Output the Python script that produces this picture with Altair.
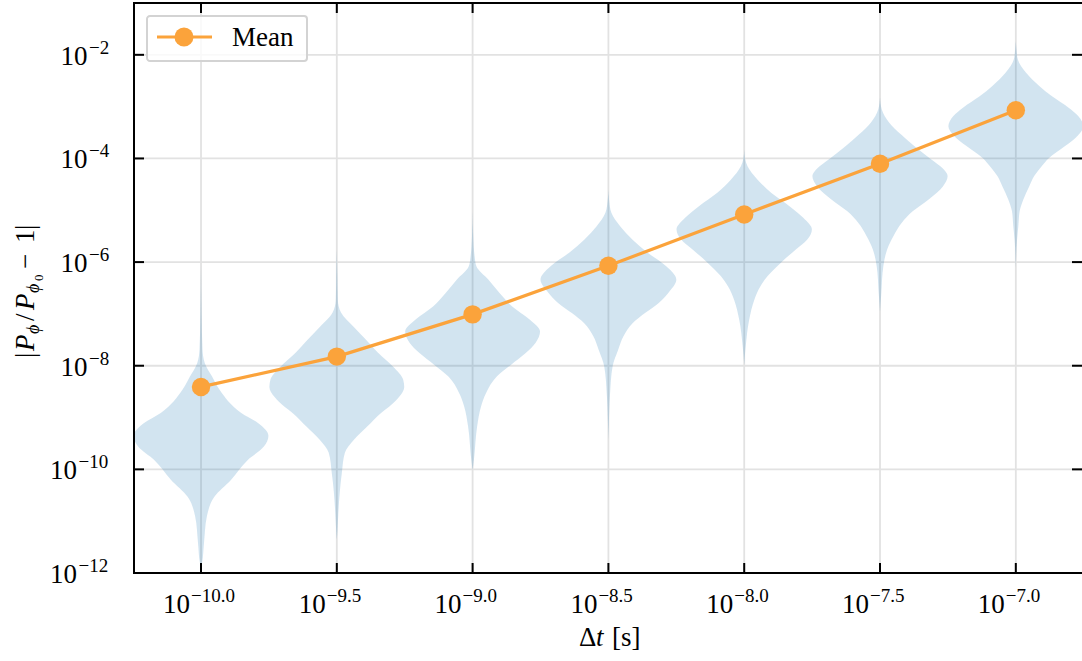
import altair as alt
import pandas as pd

# Time steps as log10(Δt / s) and the exponent text printed under each one
log_dt = [-10.0, -9.5, -9.0, -8.5, -8.0, -7.5, -7.0]
dt_exponent_text = ["−10.0", "−9.5", "−9.0", "−8.5", "−8.0", "−7.5", "−7.0"]

# Mean relative error |P_phi / P_phi0 - 1| for each time step
mean_error = [3.9e-9, 1.5e-8, 9.8e-8, 8.5e-7, 8.3e-6, 7.9e-5, 8.5e-4]

# Error decades that carry a tick and a grid line
err_decades = [-12, -10, -8, -6, -4, -2]

# Violin outlines: log10 error levels (top to bottom) and the density at each
# level, relative to the widest point of that violin
lev_a = [-6.05, -7.0, -7.69, -7.95, -8.21, -8.46, -8.91, -9.11, -9.35, -9.56, -9.82,
         -10.20, -10.53, -10.91, -11.42, -11.81, -11.87]
den_a = [0, 0.009, 0.022, 0.056, 0.163, 0.271, 0.593, 0.844, 0.993, 0.926, 0.689,
         0.444, 0.197, 0.086, 0.044, 0.015, 0]

lev_b = [-5.76, -6.30, -6.73, -6.98, -7.25, -7.50, -7.75, -8.02, -8.27, -8.41, -8.60,
         -8.79, -8.91, -9.18, -9.43, -9.68, -10.07, -10.43, -10.85, -11.17, -11.36]
den_b = [0, 0.009, 0.015, 0.064, 0.247, 0.430, 0.607, 0.830, 0.978, 0.993, 0.919,
         0.770, 0.652, 0.444, 0.252, 0.119, 0.074, 0.044, 0.022, 0.010, 0]

lev_c = [-5.02, -5.50, -5.89, -6.08, -6.34, -6.60, -6.85, -7.11, -7.34, -7.56, -7.76,
         -7.98, -8.21, -8.53, -8.79, -9.17, -9.82, -10.01]
den_c = [0, 0.009, 0.030, 0.056, 0.234, 0.400, 0.578, 0.840, 0.993, 0.926, 0.778,
         0.567, 0.356, 0.197, 0.123, 0.067, 0.019, 0]

lev_d = [-4.60, -4.80, -5.05, -5.31, -5.57, -5.82, -6.08, -6.34, -6.56, -6.79, -6.98,
         -7.18, -7.43, -7.69, -8.01, -8.59, -9.00, -9.43]
den_d = [0, 0.010, 0.044, 0.173, 0.356, 0.578, 0.852, 1.0, 0.904, 0.741, 0.544,
         0.356, 0.222, 0.144, 0.062, 0.022, 0.009, 0]

lev_e = [-3.83, -4.00, -4.15, -4.41, -4.66, -4.92, -5.15, -5.37, -5.57, -5.76, -6.02,
         -6.27, -6.47, -6.73, -7.11, -7.63, -7.80, -7.98]
den_e = [0, 0.012, 0.049, 0.197, 0.396, 0.667, 0.874, 0.997, 0.926, 0.756, 0.533,
         0.345, 0.237, 0.148, 0.074, 0.022, 0.010, 0]

lev_f = [-2.82, -3.05, -3.31, -3.54, -3.76, -4.02, -4.18, -4.34, -4.54, -4.79, -5.02,
         -5.24, -5.50, -5.76, -6.08, -6.60, -6.96]
den_f = [0, 0.025, 0.136, 0.311, 0.504, 0.756, 0.914, 0.996, 0.926, 0.716, 0.481,
         0.321, 0.197, 0.104, 0.049, 0.019, 0]

lev_g = [-1.74, -1.90, -2.09, -2.34, -2.60, -2.80, -3.02, -3.18, -3.38, -3.57, -3.76,
         -3.99, -4.15, -4.34, -4.54, -4.79, -5.02, -5.31, -5.57, -6.11]
den_g = [0, 0.010, 0.030, 0.148, 0.345, 0.533, 0.778, 0.919, 0.993, 0.904, 0.726,
         0.489, 0.381, 0.271, 0.197, 0.111, 0.056, 0.037, 0.018, 0]

violin_levels = [lev_a, lev_b, lev_c, lev_d, lev_e, lev_f, lev_g]
violin_density = [den_a, den_b, den_c, den_d, den_e, den_f, den_g]

# ---------------------------------------------------------------- styling
W, H = 948, 570
FONT = "Liberation Serif"
ORANGE = "#fba33b"
BLUE = "#1f77b4"
GRID = "#e2e2e2"
VIOLIN_HALF = 0.25          # half of the violin width, in decades of Δt
LABEL = 27
SUP = 19

xs = alt.Scale(domain=[-10.2467, -6.7563], nice=False, zero=False)
ys = alt.Scale(type="log", domain=[1e-12, 1e-1], nice=False)

# ---------------------------------------------------------------- tables
vrows = []
for x0, levs, dens in zip(log_dt, violin_levels, violin_density):
    for e, d in zip(levs, dens):
        w = VIOLIN_HALF * d
        vrows.append({"g": x0, "err": 10.0 ** e, "lo": x0 - w, "hi": x0 + w})
vdf = pd.DataFrame(vrows)

mdf = pd.DataFrame({"dt": log_dt, "err": mean_error})
xt = pd.DataFrame({"pos": log_dt, "lab": dt_exponent_text})

ylab = []
for e in err_decades:
    txt = "−" + str(abs(e))
    nd = len(str(abs(e)))
    right_of_ten = -17 - (19 + 10.5 * nd)
    ylab.append({"val": 10.0 ** e, "lab": txt, "px10": right_of_ten,
                 "pxe": right_of_ten + 1.5})
yt = pd.DataFrame(ylab)
one = pd.DataFrame({"k": [0]})

X = lambda f: alt.X(f, scale=xs, axis=None)
Y = lambda f: alt.Y(f, scale=ys, axis=None)

# ---------------------------------------------------------------- layers
grid_x = alt.Chart(xt).mark_rule(color=GRID, strokeWidth=1.8).encode(x=X("pos:Q"))
grid_y = alt.Chart(yt).mark_rule(color=GRID, strokeWidth=1.8).encode(y=Y("val:Q"))

violins = alt.Chart(vdf).mark_area(
    orient="horizontal", interpolate="monotone", color=BLUE, opacity=0.2, clip=True
).encode(y=Y("err:Q"), x=X("lo:Q"), x2="hi:Q", detail="g:N")

mean_line = alt.Chart(mdf).mark_line(color=ORANGE, strokeWidth=3.2).encode(
    x=X("dt:Q"), y=Y("err:Q"))
mean_pts = alt.Chart(mdf).mark_circle(color=ORANGE, opacity=1, size=340).encode(
    x=X("dt:Q"), y=Y("err:Q"))

# spines (left, top, bottom)
spine_kw = dict(color="black", strokeWidth=2, strokeCap="square")
spine_l = alt.Chart(one).mark_rule(**spine_kw).encode(
    x=alt.value(0), y=alt.value(0), y2=alt.value(H))
spine_t = alt.Chart(one).mark_rule(**spine_kw).encode(
    y=alt.value(0), x=alt.value(0), x2=alt.value(W))
spine_b = alt.Chart(one).mark_rule(**spine_kw).encode(
    y=alt.value(H), x=alt.value(0), x2=alt.value(W))

# inward ticks on all four sides
tick_kw = dict(color="black", strokeWidth=2)
tk_b = alt.Chart(xt).mark_rule(**tick_kw).encode(x=X("pos:Q"), y=alt.value(H), y2=alt.value(H - 10))
tk_t = alt.Chart(xt).mark_rule(**tick_kw).encode(x=X("pos:Q"), y=alt.value(0), y2=alt.value(10))
tk_l = alt.Chart(yt).mark_rule(**tick_kw).encode(y=Y("val:Q"), x=alt.value(0), x2=alt.value(10))
tk_r = alt.Chart(yt).mark_rule(**tick_kw).encode(y=Y("val:Q"), x=alt.value(W), x2=alt.value(W - 10))

# tick labels 10^{exponent}
xl_ten = alt.Chart(xt).mark_text(font=FONT, fontSize=LABEL, align="right",
                                 baseline="alphabetic", dx=-11).encode(
    x=X("pos:Q"), y=alt.value(610), text=alt.value("10"))
xl_exp = alt.Chart(xt).mark_text(font=FONT, fontSize=SUP, align="left",
                                 baseline="alphabetic", dx=-10).encode(
    x=X("pos:Q"), y=alt.value(599), text="lab:N")

yl_ten = alt.Chart(yt).mark_text(font=FONT, fontSize=LABEL, align="right",
                                 baseline="alphabetic", dy=10).encode(
    x=alt.X("px10:Q", scale=None), y=Y("val:Q"), text=alt.value("10"))
yl_exp = alt.Chart(yt).mark_text(font=FONT, fontSize=SUP, align="left",
                                 baseline="alphabetic", dy=-1).encode(
    x=alt.X("pxe:Q", scale=None), y=Y("val:Q"), text="lab:N")


def piece(text, x, y, size=LABEL, style="normal", angle=0):
    kw = dict(font=FONT, fontSize=size, fontStyle=style, align="left",
              baseline="alphabetic", color="black")
    if angle:
        kw["angle"] = angle
    return alt.Chart(one).mark_text(**kw).encode(
        x=alt.value(x), y=alt.value(y), text=alt.value(text))


# x-axis title: Δt [s]
xtitle = [
    piece("Δ", 445, 643),
    piece("t", 462, 643, style="italic"),
    piece("[s]", 478, 643),
]

# y-axis title: |P_ϕ / P_ϕ0 − 1|, read bottom to top
bx = -100
ytitle_parts = [
    ("|", 358, bx, LABEL, "normal"),
    ("P", 351, bx, LABEL, "italic"),
    ("ϕ", 334, bx + 5, 18, "italic"),
    ("/", 321, bx, LABEL, "normal"),
    ("P", 310, bx, LABEL, "italic"),
    ("ϕ", 293, bx + 5, 18, "italic"),
    ("0", 281, bx + 9, 13, "normal"),
    ("−", 269, bx, LABEL, "normal"),
    ("1", 243, bx, LABEL, "normal"),
    ("|", 230, bx, LABEL, "normal"),
]
ytitle = [piece(t, x, y - 3, s, st, angle=270) for (t, y, x, s, st) in ytitle_parts]

# legend
leg_box = alt.Chart(one).mark_rect(fill="white", fillOpacity=0.8, stroke="#d3d3d3",
                                   strokeWidth=2, cornerRadius=3).encode(
    x=alt.value(13), x2=alt.value(173), y=alt.value(13), y2=alt.value(58))
leg_line = alt.Chart(one).mark_rule(color=ORANGE, strokeWidth=3.2).encode(
    x=alt.value(23), x2=alt.value(78), y=alt.value(34))
leg_pt = alt.Chart(one).mark_circle(color=ORANGE, opacity=1, size=360).encode(
    x=alt.value(50), y=alt.value(34))
leg_txt = piece("Mean", 98, 43)

chart = alt.layer(
    grid_x, grid_y, violins, mean_line, mean_pts,
    spine_l, spine_t, spine_b, tk_b, tk_t, tk_l, tk_r,
    xl_ten, xl_exp, yl_ten, yl_exp,
    *xtitle, *ytitle,
    leg_box, leg_line, leg_pt, leg_txt,
).properties(
    width=W, height=H,
    autosize=alt.AutoSizeParams(type="none"),
    padding={"left": 134, "top": 3, "right": 0, "bottom": 88},
    background="white",
).configure_view(stroke=None)

chart.save("out.html", embed_options={"renderer": "svg", "actions": False})
